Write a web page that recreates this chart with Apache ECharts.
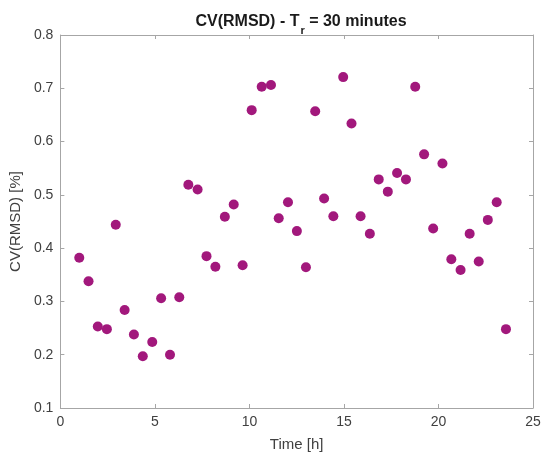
<!DOCTYPE html>
<html>
<head>
<meta charset="utf-8">
<script src="https://cdn.jsdelivr.net/npm/echarts@6/dist/echarts.min.js"></script>
<style>
html,body{margin:0;padding:0;background:#fff;}
#chart{width:546px;height:457px;}
</style>
</head>
<body>
<div id="chart"></div>
<script>
// Time [h]
const timeHours = [1.00, 1.49, 1.98, 2.46, 2.93, 3.40, 3.89, 4.36, 4.86, 5.33, 5.80, 6.29,
  6.77, 7.26, 7.73, 8.20, 8.70, 9.17, 9.64, 10.12, 10.65, 11.14, 11.55, 12.04,
  12.51, 12.99, 13.48, 13.95, 14.44, 14.96, 15.40, 15.88, 16.37, 16.84, 17.32, 17.81,
  18.28, 18.77, 19.24, 19.72, 20.21, 20.68, 21.17, 21.65, 22.13, 22.61, 23.08, 23.57];
// CV(RMSD) [%]
const cvRmsd = [0.382, 0.338, 0.253, 0.248, 0.444, 0.284, 0.238, 0.197, 0.224, 0.306, 0.200, 0.308,
  0.519, 0.510, 0.385, 0.365, 0.459, 0.482, 0.368, 0.659, 0.703, 0.706, 0.456, 0.486,
  0.432, 0.364, 0.657, 0.493, 0.460, 0.721, 0.634, 0.460, 0.427, 0.529, 0.506, 0.541,
  0.529, 0.703, 0.576, 0.437, 0.559, 0.379, 0.359, 0.427, 0.375, 0.453, 0.486, 0.248];
const xTicks = [0, 5, 10, 15, 20, 25];
const yTicks = [0.1, 0.2, 0.3, 0.4, 0.5, 0.6, 0.7, 0.8];

const points = timeHours.map((t, i) => [t, cvRmsd[i]]);
const FONT = '"Liberation Sans", Arial, sans-serif';
const AXIS_COLOR = '#a6a6a6';
const TEXT_COLOR = '#404040';

const chart = echarts.init(document.getElementById('chart'), null, {renderer: 'canvas'});
const baseX = {
  type: 'value', min: xTicks[0], max: xTicks[xTicks.length - 1], interval: 5,
  axisLine: {show: true, onZero: false, lineStyle: {color: AXIS_COLOR, width: 1}},
  axisTick: {show: true, inside: true, length: 4, lineStyle: {color: AXIS_COLOR}},
  splitLine: {show: false}
};
const baseY = {
  type: 'value', min: yTicks[0], max: yTicks[yTicks.length - 1], interval: 0.1,
  axisLine: {show: true, onZero: false, lineStyle: {color: AXIS_COLOR, width: 1}},
  axisTick: {show: true, inside: true, length: 4, lineStyle: {color: AXIS_COLOR}},
  splitLine: {show: false}
};
chart.setOption({
  animation: false,
  backgroundColor: '#ffffff',
  title: {
    text: '{a|CV(RMSD) - T}{s|r}{a| = 30 minutes}',
    left: 296, top: 7, textAlign: 'center',
    textStyle: {
      rich: {
        a: {fontFamily: FONT, fontWeight: 'bold', fontSize: 16, color: '#1a1a1a', lineHeight: 20},
        s: {fontFamily: FONT, fontWeight: 'bold', fontSize: 11, color: '#1a1a1a', lineHeight: 20, padding: [17, 0, 0, 1]}
      }
    }
  },
  grid: {left: 59, right: 13, top: 35, bottom: 48, containLabel: false},
  xAxis: [
    Object.assign({}, baseX, {
      position: 'bottom',
      name: 'Time [h]', nameLocation: 'middle', nameGap: 29,
      nameTextStyle: {fontFamily: FONT, fontSize: 15, color: TEXT_COLOR},
      axisLabel: {show: true, margin: 7, fontFamily: FONT, fontSize: 14, color: TEXT_COLOR}
    }),
    Object.assign({}, baseX, {position: 'top', axisLabel: {show: false}})
  ],
  yAxis: [
    Object.assign({}, baseY, {
      position: 'left',
      name: 'CV(RMSD) [%]', nameLocation: 'middle', nameGap: 31,
      nameTextStyle: {fontFamily: FONT, fontSize: 15, color: TEXT_COLOR},
      axisLabel: {show: true, margin: 7, fontFamily: FONT, fontSize: 14, color: TEXT_COLOR,
        formatter: v => v.toFixed(1)}
    }),
    Object.assign({}, baseY, {position: 'right', axisLabel: {show: false}})
  ],
  series: [{
    type: 'scatter',
    xAxisIndex: 0, yAxisIndex: 0,
    data: points,
    symbol: 'circle', symbolSize: 10,
    itemStyle: {color: '#a2187c', opacity: 1}
  }]
});
</script>
</body>
</html>
